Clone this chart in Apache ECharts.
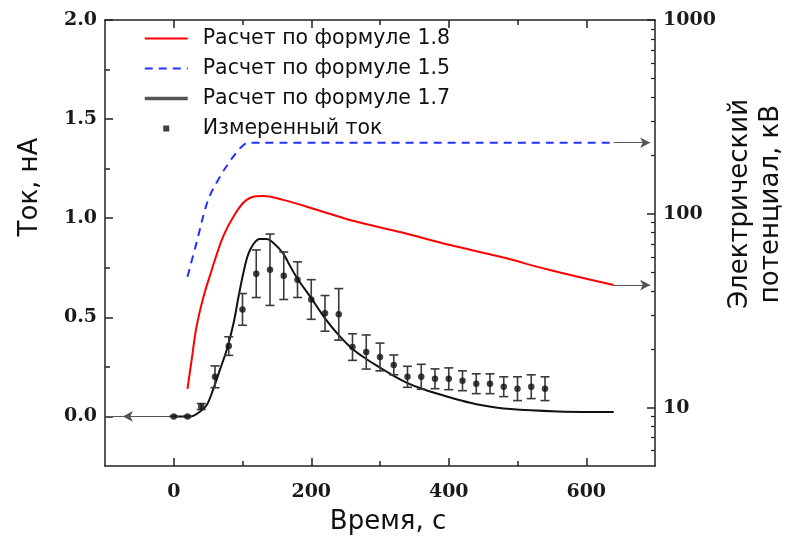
<!DOCTYPE html>
<html>
<head>
<meta charset="utf-8">
<script src="https://cdn.jsdelivr.net/npm/echarts@6/dist/echarts.min.js"></script>
<style>
  html, body { margin: 0; padding: 0; background: #fff; }
  #chart { width: 789px; height: 544px; }
</style>
</head>
<body>
<div id="chart"></div>
<script>
// Measured current (nA) with error half-widths, every 20 s
const measT   = [0, 20, 40, 60, 80, 100, 120, 140, 160, 180, 200, 220, 240, 260, 280, 300, 320, 340, 360, 380, 400, 420, 440, 460, 480, 500, 520, 540];
const measI   = [0.00, 0.00, 0.05, 0.20, 0.355, 0.54, 0.72, 0.74, 0.71, 0.69, 0.59, 0.52, 0.515, 0.35, 0.325, 0.30, 0.26, 0.20, 0.20, 0.19, 0.19, 0.18, 0.165, 0.165, 0.15, 0.14, 0.15, 0.14];
const measErr = [0, 0, 0.015, 0.055, 0.047, 0.08, 0.12, 0.18, 0.12, 0.09, 0.10, 0.09, 0.13, 0.067, 0.086, 0.07, 0.05, 0.053, 0.063, 0.05, 0.055, 0.05, 0.05, 0.05, 0.05, 0.06, 0.06, 0.06];

// Formula 1.7: computed current, nA (left axis)
const f17T = [0, 24, 38, 48, 57, 67, 77, 87, 94, 101, 108, 116, 125, 135, 145, 159, 169, 180, 200, 220, 240, 260, 280, 300, 320, 340, 360, 390, 415, 440, 490, 560, 640];
const f17I = [0, 0, 0.024, 0.058, 0.133, 0.234, 0.335, 0.47, 0.60, 0.72, 0.815, 0.87, 0.895, 0.895, 0.875, 0.823, 0.76, 0.695, 0.597, 0.495, 0.41, 0.34, 0.29, 0.247, 0.205, 0.168, 0.141, 0.108, 0.083, 0.062, 0.037, 0.025, 0.022];

// Formula 1.8: electric potential, kV (right log axis)
const f18T = [20, 26, 33, 43, 55, 63, 72, 84, 106, 130, 159, 208, 256, 329, 402, 475, 547, 640];
const f18U = [12.5, 17.6, 26, 37, 51, 62.5, 76.5, 93, 118, 123.5, 118, 105, 93, 80.5, 69, 60, 51.3, 42.9];

// Formula 1.5: electric potential, kV (right log axis)
const f15T = [20, 33, 50, 67, 80, 92, 100, 108, 120, 640];
const f15U = [47.3, 70.6, 118, 155, 183, 209, 224, 232.7, 232.7, 232.7];

// Axis ticks
const xMajor = [0, 200, 400, 600];
const xMinor = [100, 300, 500];
const yMajor = [0, 0.5, 1.0, 1.5, 2.0];
const yMinor = [0.25, 0.75, 1.25, 1.75];
const uMajor = [10, 100, 1000];
const uMinor = [6, 7, 8, 9, 20, 30, 40, 50, 60, 70, 80, 90, 200, 300, 400, 500, 600, 700, 800, 900];

// Arrow guides pointing each curve to its axis
const leftArrow  = [0, -74, -100];   // time values: start, arrow tip, axis
const rightArrow = [640, 693];       // time values: start, arrow tip

const pairs = (xs, ys) => xs.map((x, i) => [x, ys[i]]);

const names = {
  f18: 'Расчет по формуле 1.8',
  f15: 'Расчет по формуле 1.5',
  f17: 'Расчет по формуле 1.7',
  meas: 'Измеренный ток'
};

const tickFont = { fontFamily: 'DejaVu Serif', fontWeight: 'bold', fontSize: 19, color: '#1a1a1a' };
const titleFont = { fontFamily: 'DejaVu Sans', fontSize: 26, color: '#111' };
const axisLineStyle = { color: '#222', width: 1.5 };
const tickLine = { color: '#222', width: 1.5 };

function xAxisDef(pos, values, len, labels, showLine) {
  return {
    type: 'value', position: pos, min: -100, max: 700,
    axisLine: { show: showLine, onZero: false, lineStyle: axisLineStyle },
    axisTick: { show: true, inside: true, length: len, customValues: values, lineStyle: tickLine },
    axisLabel: labels ? Object.assign({ show: true, customValues: values, margin: 17 }, tickFont) : { show: false },
    splitLine: { show: false }
  };
}

const option = {
  animation: false,
  backgroundColor: '#fff',
  grid: { left: 105, right: 134, top: 20, bottom: 78, containLabel: false, outerBoundsMode: 'none' },
  legend: {
    orient: 'vertical', left: 143, top: 28, padding: 0,
    itemWidth: 43, itemHeight: 6, itemGap: 9, symbolKeepAspect: true,
    textStyle: { fontFamily: 'DejaVu Sans', fontSize: 20.5, lineHeight: 20, color: '#111', padding: [0, 0, 0, 10] },
    data: [
      { name: names.f18, itemStyle: { opacity: 0 } },
      { name: names.f15, itemStyle: { opacity: 0 } },
      { name: names.f17, itemStyle: { opacity: 0 }, lineStyle: { color: '#555', width: 3.5 } },
      { name: names.meas, icon: 'path://M0,0L10,0L10,10L0,10Z', itemStyle: { color: '#111' } }
    ]
  },
  xAxis: [
    Object.assign(xAxisDef('bottom', xMajor, 8, true, true), {
      name: 'Время, с', nameLocation: 'middle', nameGap: 43, nameMoveOverlap: false,
      nameTextStyle: Object.assign({ padding: [0, 0, 0, 16] }, titleFont)
    }),
    xAxisDef('bottom', xMinor, 5, false, false),
    xAxisDef('top', xMajor, 8, false, true),
    xAxisDef('top', xMinor, 5, false, false)
  ],
  yAxis: [
    {
      type: 'value', position: 'left', min: -0.25, max: 2.0,
      axisLine: { show: true, onZero: false, lineStyle: axisLineStyle },
      axisTick: { show: true, inside: true, length: 8, customValues: yMajor, lineStyle: tickLine },
      axisLabel: Object.assign({ customValues: yMajor, margin: 8, formatter: v => v.toFixed(1) }, tickFont),
      splitLine: { show: false },
      name: 'Ток, нА', nameLocation: 'middle', nameGap: 62, nameRotate: 90, nameMoveOverlap: false,
      nameTextStyle: Object.assign({ padding: [0, 0, 0, 112] }, titleFont)
    },
    {
      type: 'log', logBase: 10, position: 'right', min: 5, max: 1000,
      axisLine: { show: true, onZero: false, lineStyle: axisLineStyle },
      axisTick: { show: true, inside: true, length: 8, customValues: uMajor, lineStyle: tickLine },
      axisLabel: Object.assign({ customValues: uMajor, margin: 8, formatter: v => String(Math.round(v)) }, tickFont),
      splitLine: { show: false },
      name: 'Электрический\nпотенциал, кВ', nameLocation: 'middle', nameGap: 70, nameRotate: 90, nameMoveOverlap: false,
      nameTextStyle: Object.assign({ padding: [0, 0, 0, 78], lineHeight: 31 }, titleFont)
    },
    {
      type: 'log', logBase: 10, position: 'right', min: 5, max: 1000,
      axisLine: { show: false, onZero: false },
      axisTick: { show: true, inside: true, length: 4, customValues: uMinor, lineStyle: { color: '#222', width: 1.2 } },
      axisLabel: { show: false },
      splitLine: { show: false }
    },
    {
      type: 'value', position: 'left', min: -0.25, max: 2.0,
      axisLine: { show: false, onZero: false },
      axisTick: { show: true, inside: true, length: 5, customValues: yMinor, lineStyle: tickLine },
      axisLabel: { show: false },
      splitLine: { show: false }
    }
  ],
  series: [
    {
      name: names.f18, type: 'line', xAxisIndex: 0, yAxisIndex: 1,
      data: pairs(f18T, f18U), smooth: 0.4, symbol: 'none',
      lineStyle: { color: '#ff0000', width: 2 }, itemStyle: { color: '#ff0000' }, z: 3,
      markLine: {
        silent: true, symbol: ['none', 'arrow'], symbolSize: [8, 10],
        label: { show: false }, lineStyle: { color: '#555', width: 1, type: 'solid' },
        data: [[{ coord: [rightArrow[0], f18U[f18U.length - 1]] }, { coord: [rightArrow[1], f18U[f18U.length - 1]] }]]
      }
    },
    {
      name: names.f15, type: 'line', xAxisIndex: 0, yAxisIndex: 1,
      data: pairs(f15T, f15U), smooth: 0.35, symbol: 'none',
      lineStyle: { color: '#2233ff', width: 2, type: [8, 6] }, itemStyle: { color: '#2233ff' }, z: 3,
      markLine: {
        silent: true, symbol: ['none', 'arrow'], symbolSize: [8, 10],
        label: { show: false }, lineStyle: { color: '#555', width: 1, type: 'solid' },
        data: [[{ coord: [rightArrow[0], f15U[f15U.length - 1]] }, { coord: [rightArrow[1], f15U[f15U.length - 1]] }]]
      }
    },
    {
      name: names.f17, type: 'line', xAxisIndex: 0, yAxisIndex: 0,
      data: pairs(f17T, f17I), smooth: 0.35, symbol: 'none',
      lineStyle: { color: '#111', width: 2 }, itemStyle: { color: '#111' }, z: 4,
      markLine: {
        silent: true, symbol: ['none', 'arrow'], symbolSize: [8, 10],
        label: { show: false }, lineStyle: { color: '#555', width: 1, type: 'solid' },
        data: [
          [{ coord: [leftArrow[0], 0] }, { coord: [leftArrow[1], 0] }],
          [{ coord: [leftArrow[1], 0], symbol: 'none' }, { coord: [leftArrow[2], 0], symbol: 'none' }]
        ]
      }
    },
    {
      name: 'errbars', type: 'custom', xAxisIndex: 0, yAxisIndex: 0, z: 5, silent: true,
      data: measT.map((t, i) => [t, measI[i] - measErr[i], measI[i] + measErr[i]]),
      encode: { x: 0, y: [1, 2] },
      renderItem: function (params, api) {
        const t = api.value(0);
        const lo = api.coord([t, api.value(1)]);
        const hi = api.coord([t, api.value(2)]);
        const w = 4.5;
        const st = { stroke: '#3a3a3a', lineWidth: 1.6 };
        return {
          type: 'group',
          children: [
            { type: 'line', shape: { x1: lo[0], y1: lo[1], x2: hi[0], y2: hi[1] }, style: st },
            { type: 'line', shape: { x1: lo[0] - w, y1: lo[1], x2: lo[0] + w, y2: lo[1] }, style: st },
            { type: 'line', shape: { x1: hi[0] - w, y1: hi[1], x2: hi[0] + w, y2: hi[1] }, style: st }
          ]
        };
      }
    },
    {
      name: names.meas, type: 'scatter', xAxisIndex: 0, yAxisIndex: 0, z: 6,
      data: pairs(measT, measI), symbol: 'circle', symbolSize: 6.5,
      itemStyle: { color: '#111' }
    }
  ]
};

const chart = echarts.init(document.getElementById('chart'), null, { renderer: 'canvas' });
chart.setOption(option);
</script>
</body>
</html>
